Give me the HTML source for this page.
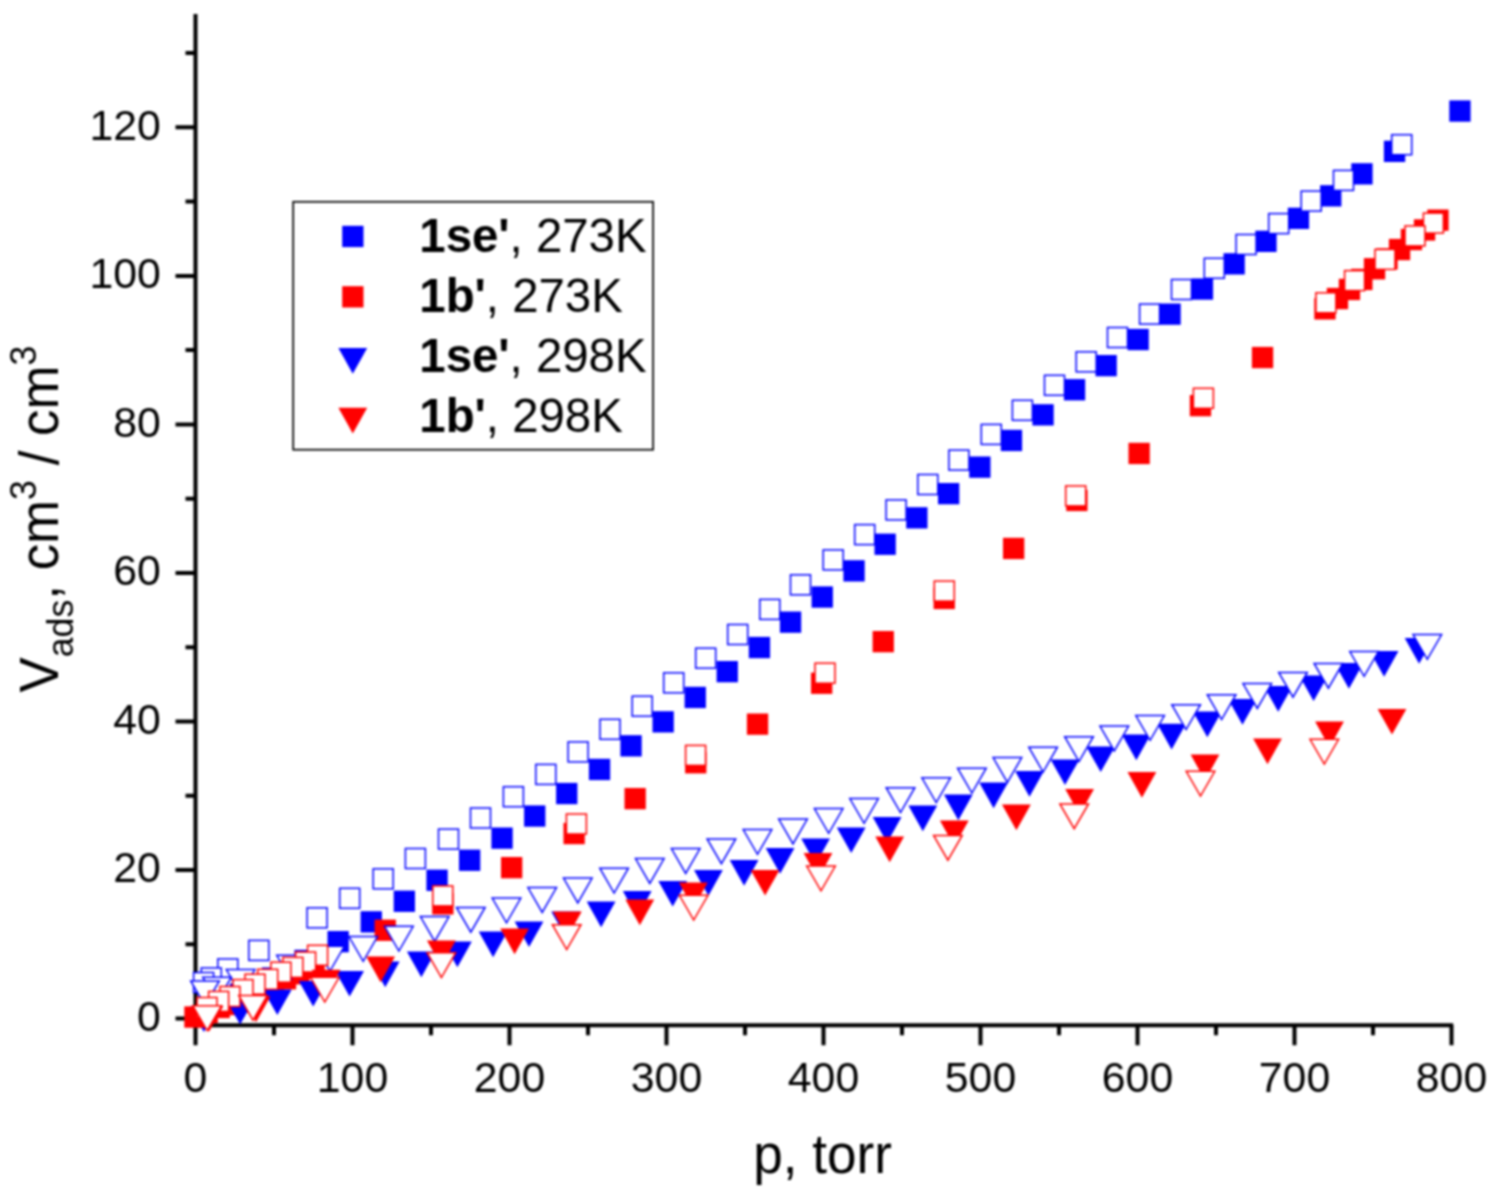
<!DOCTYPE html>
<html lang="en">
<head>
<meta charset="utf-8">
<title>CO2 adsorption isotherms</title>
<style>
html,body{margin:0;padding:0;background:#fff;}
body{width:1496px;height:1198px;overflow:hidden;}
svg{display:block;}
text{font-family:"Liberation Sans",Arial,Helvetica,sans-serif;fill:#000;}
.b{font-weight:bold;}
</style>
</head>
<body>
<svg width="1496" height="1198" viewBox="0 0 1496 1198">
<defs><filter id="soft" color-interpolation-filters="sRGB" x="0" y="0" width="1496" height="1198" filterUnits="userSpaceOnUse"><feGaussianBlur stdDeviation="1"/></filter></defs>
<rect width="1496" height="1198" fill="#fff"/>
<g filter="url(#soft)">
<rect width="1496" height="1198" fill="#fff"/>
<g id="axes" stroke="#000" stroke-width="4.0" fill="none" stroke-linecap="butt">
<path d="M195.5 14V1045.2"/><path d="M193.5 1025.2H1453.2"/>
<path d="M274 1025.2v10M352.5 1025.2v20M431 1025.2v10M509.5 1025.2v20M588 1025.2v10M666.5 1025.2v20M745 1025.2v10M823.5 1025.2v20M902 1025.2v10M980.5 1025.2v20M1059 1025.2v10M1137.5 1025.2v20M1216 1025.2v10M1294.5 1025.2v20M1373 1025.2v10M1451.5 1025.2v20M195.5 1018.6h-20M195.5 944.3h-10M195.5 870h-20M195.5 795.8h-10M195.5 721.5h-20M195.5 647.2h-10M195.5 573h-20M195.5 498.7h-10M195.5 424.4h-20M195.5 350.1h-10M195.5 275.9h-20M195.5 201.6h-10M195.5 127.3h-20M195.5 53h-10"/>
</g>
<g id="data">
<g fill="#0000ff"><rect x="229.8" y="983.4" width="21.3" height="21.3"/><rect x="261.9" y="967.4" width="21.3" height="21.3"/><rect x="294.4" y="949.8" width="21.3" height="21.3"/><rect x="327.5" y="931" width="21.3" height="21.3"/><rect x="360.6" y="911.2" width="21.3" height="21.3"/><rect x="393.7" y="890.6" width="21.3" height="21.3"/><rect x="426.4" y="869.6" width="21.3" height="21.3"/><rect x="459" y="849.6" width="21.3" height="21.3"/><rect x="491.4" y="827.5" width="21.3" height="21.3"/><rect x="524.1" y="805.4" width="21.3" height="21.3"/><rect x="556.1" y="782.9" width="21.3" height="21.3"/><rect x="588.9" y="758.8" width="21.3" height="21.3"/><rect x="620.4" y="735.2" width="21.3" height="21.3"/><rect x="652.5" y="711.2" width="21.3" height="21.3"/><rect x="684.6" y="686.8" width="21.3" height="21.3"/><rect x="716.6" y="661" width="21.3" height="21.3"/><rect x="748.8" y="636.9" width="21.3" height="21.3"/><rect x="779.9" y="611.5" width="21.3" height="21.3"/><rect x="811.6" y="586.4" width="21.3" height="21.3"/><rect x="843.4" y="560.2" width="21.3" height="21.3"/><rect x="874.5" y="533.6" width="21.3" height="21.3"/><rect x="906.2" y="507.2" width="21.3" height="21.3"/><rect x="938" y="483" width="21.3" height="21.3"/><rect x="969.2" y="456.5" width="21.3" height="21.3"/><rect x="1000.8" y="429.8" width="21.3" height="21.3"/><rect x="1032.4" y="404.2" width="21.3" height="21.3"/><rect x="1063.9" y="379.1" width="21.3" height="21.3"/><rect x="1095.5" y="355" width="21.3" height="21.3"/><rect x="1127.5" y="328.9" width="21.3" height="21.3"/><rect x="1159.4" y="303.5" width="21.3" height="21.3"/><rect x="1191.8" y="278.4" width="21.3" height="21.3"/><rect x="1223.5" y="253.2" width="21.3" height="21.3"/><rect x="1255.3" y="230.7" width="21.3" height="21.3"/><rect x="1287.8" y="207.7" width="21.3" height="21.3"/><rect x="1320.1" y="185.2" width="21.3" height="21.3"/><rect x="1351.3" y="163.2" width="21.3" height="21.3"/><rect x="1383.9" y="140.7" width="21.3" height="21.3"/><rect x="1449.3" y="100.4" width="21.3" height="21.3"/></g>
<g fill="#fff" stroke="#0000ff" stroke-width="1.5"><rect x="1391.7" y="134.7" width="20" height="20"/><rect x="1333.5" y="170.4" width="20" height="20"/><rect x="1301.2" y="191.1" width="20" height="20"/><rect x="1268.7" y="213.6" width="20" height="20"/><rect x="1236.1" y="234.5" width="20" height="20"/><rect x="1204.3" y="258.3" width="20" height="20"/><rect x="1171.5" y="279.5" width="20" height="20"/><rect x="1139.6" y="304.1" width="20" height="20"/><rect x="1107.5" y="327.5" width="20" height="20"/><rect x="1076.2" y="351.8" width="20" height="20"/><rect x="1044.5" y="375.3" width="20" height="20"/><rect x="1012.4" y="400.3" width="20" height="20"/><rect x="981.3" y="424.4" width="20" height="20"/><rect x="948.9" y="450.1" width="20" height="20"/><rect x="917.8" y="474.5" width="20" height="20"/><rect x="886.1" y="499.9" width="20" height="20"/><rect x="854.7" y="524.6" width="20" height="20"/><rect x="823.2" y="549.9" width="20" height="20"/><rect x="790.5" y="574.8" width="20" height="20"/><rect x="759.8" y="599.4" width="20" height="20"/><rect x="727.7" y="624.5" width="20" height="20"/><rect x="695.7" y="648.2" width="20" height="20"/><rect x="663.7" y="672.8" width="20" height="20"/><rect x="632.2" y="696.2" width="20" height="20"/><rect x="600" y="719.3" width="20" height="20"/><rect x="568.1" y="741.9" width="20" height="20"/><rect x="535.8" y="764.4" width="20" height="20"/><rect x="503.4" y="786.7" width="20" height="20"/><rect x="470.5" y="808" width="20" height="20"/><rect x="438.5" y="829.1" width="20" height="20"/><rect x="405.4" y="848.5" width="20" height="20"/><rect x="373.2" y="868.8" width="20" height="20"/><rect x="339.7" y="888.3" width="20" height="20"/><rect x="307.1" y="907.8" width="20" height="20"/><rect x="248.8" y="940.4" width="20" height="20"/><rect x="217.8" y="958.9" width="20" height="20"/><rect x="201.3" y="967.9" width="20" height="20"/><rect x="193.6" y="972.5" width="20" height="20"/></g>
<g fill="#0000ff"><path d="M189.5 1006.4h28.8l-14.4 25.7z"/></g>
<g fill="#ff0000"><rect x="184.3" y="1006.4" width="21.3" height="21.3"/><rect x="196.5" y="1001.9" width="21.3" height="21.3"/><rect x="208.5" y="996.8" width="21.3" height="21.3"/><rect x="218.3" y="993.9" width="21.3" height="21.3"/><rect x="228.4" y="991.4" width="21.3" height="21.3"/><rect x="240.3" y="984.4" width="21.3" height="21.3"/><rect x="251.3" y="978.4" width="21.3" height="21.3"/><rect x="263.1" y="973.1" width="21.3" height="21.3"/><rect x="274.8" y="968.1" width="21.3" height="21.3"/><rect x="288.2" y="963.1" width="21.3" height="21.3"/><rect x="303.4" y="957.4" width="21.3" height="21.3"/><rect x="374.6" y="919.6" width="21.3" height="21.3"/><rect x="432.2" y="893.2" width="21.3" height="21.3"/><rect x="501" y="857" width="21.3" height="21.3"/><rect x="563.5" y="822.9" width="21.3" height="21.3"/><rect x="624.5" y="788" width="21.3" height="21.3"/><rect x="685.1" y="752.1" width="21.3" height="21.3"/><rect x="746.9" y="713.5" width="21.3" height="21.3"/><rect x="811" y="672.6" width="21.3" height="21.3"/><rect x="872.6" y="631" width="21.3" height="21.3"/><rect x="933.6" y="587.8" width="21.3" height="21.3"/><rect x="1003" y="537.8" width="21.3" height="21.3"/><rect x="1066.2" y="489.8" width="21.3" height="21.3"/><rect x="1128.5" y="442.8" width="21.3" height="21.3"/><rect x="1189.8" y="395" width="21.3" height="21.3"/><rect x="1251.9" y="346.9" width="21.3" height="21.3"/><rect x="1314.3" y="298.2" width="21.3" height="21.3"/><rect x="1326.8" y="287.9" width="21.3" height="21.3"/><rect x="1338.8" y="278.8" width="21.3" height="21.3"/><rect x="1351.2" y="268.8" width="21.3" height="21.3"/><rect x="1363.9" y="258.1" width="21.3" height="21.3"/><rect x="1376.3" y="248.3" width="21.3" height="21.3"/><rect x="1388.9" y="238.9" width="21.3" height="21.3"/><rect x="1400.8" y="228.9" width="21.3" height="21.3"/><rect x="1413.9" y="219.3" width="21.3" height="21.3"/><rect x="1427.3" y="209.5" width="21.3" height="21.3"/></g>
<g fill="#0000ff"><path d="M225.7 998.9h28.8l-14.4 25.7z"/><path d="M262.9 989.4h28.8l-14.4 25.7z"/><path d="M298.8 980.9h28.8l-14.4 25.7z"/><path d="M335.2 970.9h28.8l-14.4 25.7z"/><path d="M370.8 961.6h28.8l-14.4 25.7z"/><path d="M406.9 951.5h28.8l-14.4 25.7z"/><path d="M443 941.5h28.8l-14.4 25.7z"/><path d="M478.7 931.5h28.8l-14.4 25.7z"/><path d="M514.6 921.4h28.8l-14.4 25.7z"/><path d="M551.3 911.4h28.8l-14.4 25.7z"/><path d="M586.7 901.5h28.8l-14.4 25.7z"/><path d="M622.8 891.1h28.8l-14.4 25.7z"/><path d="M658.3 880.9h28.8l-14.4 25.7z"/><path d="M694 870h28.8l-14.4 25.7z"/><path d="M729.7 860h28.8l-14.4 25.7z"/><path d="M765.7 848h28.8l-14.4 25.7z"/><path d="M801.2 838.4h28.8l-14.4 25.7z"/><path d="M836.8 827.4h28.8l-14.4 25.7z"/><path d="M872.7 817h28.8l-14.4 25.7z"/><path d="M908.4 805.5h28.8l-14.4 25.7z"/><path d="M943.9 794.5h28.8l-14.4 25.7z"/><path d="M979.2 782.5h28.8l-14.4 25.7z"/><path d="M1015.1 771h28.8l-14.4 25.7z"/><path d="M1050.6 759.4h28.8l-14.4 25.7z"/><path d="M1086.3 746.4h28.8l-14.4 25.7z"/><path d="M1121.9 734.6h28.8l-14.4 25.7z"/><path d="M1157.2 723.8h28.8l-14.4 25.7z"/><path d="M1192.9 711.6h28.8l-14.4 25.7z"/><path d="M1228.1 699.1h28.8l-14.4 25.7z"/><path d="M1263.8 686h28.8l-14.4 25.7z"/><path d="M1299.2 675.4h28.8l-14.4 25.7z"/><path d="M1334.5 663h28.8l-14.4 25.7z"/><path d="M1369.7 651h28.8l-14.4 25.7z"/><path d="M1404.7 638h28.8l-14.4 25.7z"/></g>
<g fill="#fff" stroke="#0000ff" stroke-width="1.5"><path d="M1413 634.5h28.6l-14.3 24.8z"/><path d="M1349.8 651.5h28.6l-14.3 24.8z"/><path d="M1314.1 663.4h28.6l-14.3 24.8z"/><path d="M1278.7 672.4h28.6l-14.3 24.8z"/><path d="M1243 683.6h28.6l-14.3 24.8z"/><path d="M1207.3 694.7h28.6l-14.3 24.8z"/><path d="M1171.8 704.7h28.6l-14.3 24.8z"/><path d="M1135.8 715.5h28.6l-14.3 24.8z"/><path d="M1100 726.1h28.6l-14.3 24.8z"/><path d="M1064.7 736.7h28.6l-14.3 24.8z"/><path d="M1028.8 747.2h28.6l-14.3 24.8z"/><path d="M993.1 757.6h28.6l-14.3 24.8z"/><path d="M957.6 768.2h28.6l-14.3 24.8z"/><path d="M921.9 777.8h28.6l-14.3 24.8z"/><path d="M886.2 787.7h28.6l-14.3 24.8z"/><path d="M849.8 798.5h28.6l-14.3 24.8z"/><path d="M814.4 808.5h28.6l-14.3 24.8z"/><path d="M778.7 819.1h28.6l-14.3 24.8z"/><path d="M743.2 829.5h28.6l-14.3 24.8z"/><path d="M707.1 838.9h28.6l-14.3 24.8z"/><path d="M671.4 848.6h28.6l-14.3 24.8z"/><path d="M635.5 858.6h28.6l-14.3 24.8z"/><path d="M599.8 868.2h28.6l-14.3 24.8z"/><path d="M563.5 878.1h28.6l-14.3 24.8z"/><path d="M527.9 887.6h28.6l-14.3 24.8z"/><path d="M492.2 898h28.6l-14.3 24.8z"/><path d="M456.5 907.4h28.6l-14.3 24.8z"/><path d="M420.4 916.6h28.6l-14.3 24.8z"/><path d="M384.6 926.3h28.6l-14.3 24.8z"/><path d="M348.9 936.5h28.6l-14.3 24.8z"/><path d="M315.7 946.3h28.6l-14.3 24.8z"/><path d="M276.7 955.3h28.6l-14.3 24.8z"/><path d="M226.3 969.5h28.6l-14.3 24.8z"/><path d="M202.7 977.2h28.6l-14.3 24.8z"/><path d="M190.7 980.9h28.6l-14.3 24.8z"/></g>
<g fill="#fff" stroke="#ff0000" stroke-width="1.5"><rect x="1423.4" y="213.1" width="20" height="20"/><rect x="1405" y="225.9" width="20" height="20"/><rect x="1375" y="249.4" width="20" height="20"/><rect x="1344.6" y="270.6" width="20" height="20"/><rect x="1315.9" y="292.8" width="20" height="20"/><rect x="1193.4" y="388.3" width="20" height="20"/><rect x="1065.7" y="485.9" width="20" height="20"/><rect x="934.3" y="581.1" width="20" height="20"/><rect x="815" y="663.2" width="20" height="20"/><rect x="685.6" y="745.4" width="20" height="20"/><rect x="566.4" y="814" width="20" height="20"/><rect x="432.8" y="885.9" width="20" height="20"/><rect x="307.6" y="945.3" width="20" height="20"/><rect x="295.6" y="952" width="20" height="20"/><rect x="282.9" y="957.4" width="20" height="20"/><rect x="270.9" y="962.2" width="20" height="20"/><rect x="257.7" y="969.3" width="20" height="20"/><rect x="245" y="974.2" width="20" height="20"/><rect x="233" y="979.6" width="20" height="20"/><rect x="220" y="986.5" width="20" height="20"/><rect x="208.6" y="991.4" width="20" height="20"/><rect x="197" y="997.5" width="20" height="20"/></g>
<g fill="#ff0000"><path d="M194.6 1006.1h28.8l-14.4 25.7z"/><path d="M241.6 996.6h28.8l-14.4 25.7z"/><path d="M311.7 969.8h28.8l-14.4 25.7z"/><path d="M366.2 956.5h28.8l-14.4 25.7z"/><path d="M427 940.5h28.8l-14.4 25.7z"/><path d="M500.2 928.5h28.8l-14.4 25.7z"/><path d="M552.9 911.4h28.8l-14.4 25.7z"/><path d="M625.4 899.5h28.8l-14.4 25.7z"/><path d="M678.9 882.5h28.8l-14.4 25.7z"/><path d="M750.7 869.9h28.8l-14.4 25.7z"/><path d="M803.6 852.9h28.8l-14.4 25.7z"/><path d="M875.3 836.6h28.8l-14.4 25.7z"/><path d="M939.9 820.6h28.8l-14.4 25.7z"/><path d="M1002 804.5h28.8l-14.4 25.7z"/><path d="M1065.2 789.1h28.8l-14.4 25.7z"/><path d="M1127.5 772.1h28.8l-14.4 25.7z"/><path d="M1190.6 754.6h28.8l-14.4 25.7z"/><path d="M1253.1 738.5h28.8l-14.4 25.7z"/><path d="M1315.1 721.6h28.8l-14.4 25.7z"/><path d="M1377.6 708.9h28.8l-14.4 25.7z"/></g>
<g fill="#fff" stroke="#ff0000" stroke-width="1.5"><path d="M1310 739.3h28.6l-14.3 24.8z"/><path d="M1186.2 771.3h28.6l-14.3 24.8z"/><path d="M1059.9 803.9h28.6l-14.3 24.8z"/><path d="M933.6 835.4h28.6l-14.3 24.8z"/><path d="M806.7 866h28.6l-14.3 24.8z"/><path d="M679.4 895.3h28.6l-14.3 24.8z"/><path d="M552.4 924.7h28.6l-14.3 24.8z"/><path d="M427.1 952.7h28.6l-14.3 24.8z"/><path d="M310.5 977.3h28.6l-14.3 24.8z"/><path d="M238.7 995.4h28.6l-14.3 24.8z"/><path d="M192.9 1005.8h28.6l-14.3 24.8z"/></g>
</g>
<g id="ticklabels" font-size="42.8">
<text transform="translate(195.5 1091.8) scale(1.0 1)" text-anchor="middle">0</text><text transform="translate(352.5 1091.8) scale(1.0 1)" text-anchor="middle">100</text><text transform="translate(509.5 1091.8) scale(1.0 1)" text-anchor="middle">200</text><text transform="translate(666.5 1091.8) scale(1.0 1)" text-anchor="middle">300</text><text transform="translate(823.5 1091.8) scale(1.0 1)" text-anchor="middle">400</text><text transform="translate(980.5 1091.8) scale(1.0 1)" text-anchor="middle">500</text><text transform="translate(1137.5 1091.8) scale(1.0 1)" text-anchor="middle">600</text><text transform="translate(1294.5 1091.8) scale(1.0 1)" text-anchor="middle">700</text><text transform="translate(1451.5 1091.8) scale(1.0 1)" text-anchor="middle">800</text>
<text transform="translate(160.8 1031) scale(1.0 1)" text-anchor="end">0</text><text transform="translate(160.8 882.4) scale(1.0 1)" text-anchor="end">20</text><text transform="translate(160.8 733.9) scale(1.0 1)" text-anchor="end">40</text><text transform="translate(160.8 585.4) scale(1.0 1)" text-anchor="end">60</text><text transform="translate(160.8 436.8) scale(1.0 1)" text-anchor="end">80</text><text transform="translate(160.8 288.2) scale(1.0 1)" text-anchor="end">100</text><text transform="translate(160.8 139.7) scale(1.0 1)" text-anchor="end">120</text>
</g>
<text id="xtitle" transform="translate(822.6 1173) scale(0.955 1)" font-size="55.6" text-anchor="middle">p, torr</text>
<text id="ytitle" transform="translate(57.5 692.5) rotate(-90) scale(0.951 1)" font-size="55.6">V<tspan font-size="37.5" dy="15.5">ads</tspan><tspan font-size="55.6" dy="-15.5">,</tspan><tspan dy="0" dx="0"> cm</tspan><tspan font-size="37.5" dy="-22">3</tspan><tspan dy="22"> / cm</tspan><tspan font-size="37.5" dy="-22">3</tspan></text>
<g id="legend">
<rect x="293.2" y="201.8" width="359.9" height="247.9" fill="#fff" stroke="#000" stroke-width="1.7"/>
<g fill="#0000ff"><rect x="342.2" y="225.8" width="21.3" height="21.3"/></g><text transform="translate(419.3 252) scale(0.973 1)" font-size="48.7"><tspan class="b">1se'</tspan>, 273K</text>
<g fill="#ff0000"><rect x="342.2" y="286.2" width="21.3" height="21.3"/></g><text transform="translate(419.3 312) scale(0.973 1)" font-size="48.7"><tspan class="b">1b'</tspan>, 273K</text>
<g fill="#0000ff"><path d="M338.4 348h28.8l-14.4 25.7z"/></g><text transform="translate(419.3 372.3) scale(0.973 1)" font-size="48.7"><tspan class="b">1se'</tspan>, 298K</text>
<g fill="#ff0000"><path d="M338.4 407.8h28.8l-14.4 25.7z"/></g><text transform="translate(419.3 432) scale(0.973 1)" font-size="48.7"><tspan class="b">1b'</tspan>, 298K</text>
</g>
</g>
</svg>
</body>
</html>
